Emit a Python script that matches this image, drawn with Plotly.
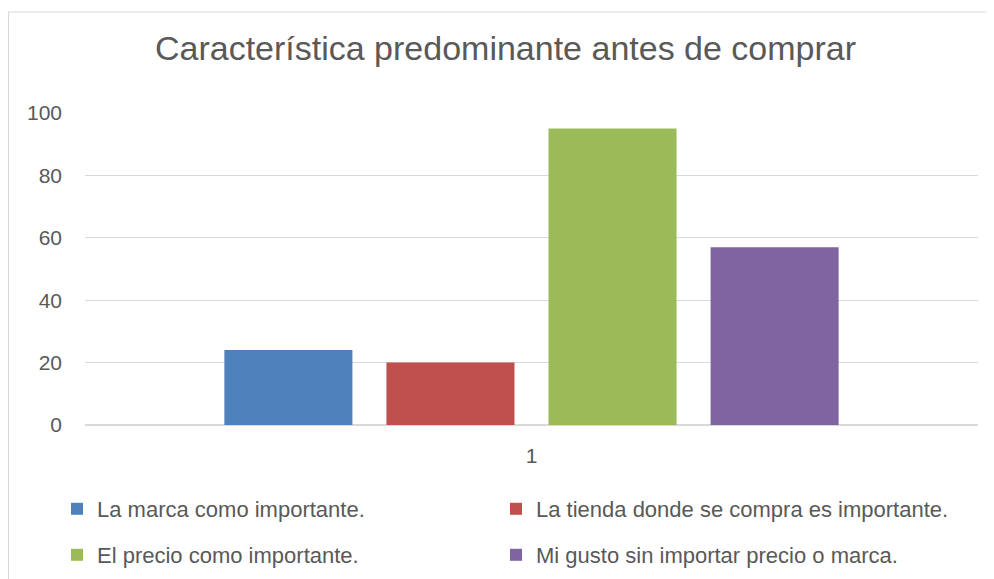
import plotly.graph_objects as go

# category and series values
categories = ["1"]
series_names = [
    "La marca como importante.",
    "La tienda donde se compra es importante.",
    "El precio como importante.",
    "Mi gusto sin importar precio o marca.",
]
series_values = [24, 20, 95, 57]
series_colors = ["#4f81bd", "#c0504d", "#9bbb59", "#8064a2"]
legend_ids = ["legend", "legend2", "legend3", "legend4"]

y_ticks = [0, 20, 40, 60, 80, 100]

FONT = "Liberation Sans, Arial, sans-serif"
GREY = "#595959"

# page adds an 8px body margin, so the figure is drawn 8px smaller
W, H = 986, 571

fig = go.Figure()
for name, val, col, lg in zip(series_names, series_values, series_colors, legend_ids):
    fig.add_trace(go.Bar(x=categories, y=[val], name=name, marker=dict(color=col, line=dict(width=0)),
                         legend=lg))


# one container-referenced legend per entry (2x2 grid under the plot)
def legend_at(px, py):
    return dict(orientation="h", xref="container", yref="container",
                x=px / W, y=1 - py / H, xanchor="left", yanchor="middle",
                font=dict(family=FONT, size=22, color=GREY), bgcolor="rgba(0,0,0,0)")


fig.update_layout(
    width=W, height=H,
    margin=dict(l=77, r=16, t=105, b=154),
    paper_bgcolor="white", plot_bgcolor="white",
    font=dict(family=FONT, color=GREY),
    title=dict(text="Característica predominante antes de comprar", x=497.5 / W, xanchor="center",
               y=1 - 40 / H, yanchor="middle", font=dict(family=FONT, size=34, color=GREY)),
    barmode="group", bargap=0.274, bargroupgap=0.21,
    showlegend=True,
    legend=legend_at(49, 501),
    legend2=legend_at(488, 501),
    legend3=legend_at(49, 547),
    legend4=legend_at(488, 547),
    xaxis=dict(type="category", showgrid=False, showline=False, ticks="",
               tickfont=dict(family=FONT, size=21, color=GREY), ticklabelstandoff=16,
               fixedrange=True),
    yaxis=dict(range=[0, 100], tickvals=y_ticks, showgrid=True, gridcolor="#d9d9d9", gridwidth=1,
               zeroline=True, zerolinecolor="#d9d9d9", zerolinewidth=1.5, showline=False,
               tickfont=dict(family=FONT, size=21, color=GREY), ticklabelstandoff=22,
               fixedrange=True),
    # chart-area border: left edge sits on the figure's left side, top runs off to the right
    shapes=[dict(type="rect", xref="paper", yref="paper",
                 x0=-76.5 / 893, x1=(1000 - 85) / 893,
                 y0=(425 - 620) / 312, y1=(425 - 12) / 312,
                 line=dict(color="#d9d9d9", width=1.2), fillcolor="rgba(0,0,0,0)", layer="below")],
)

fig.write_html("out.html")
